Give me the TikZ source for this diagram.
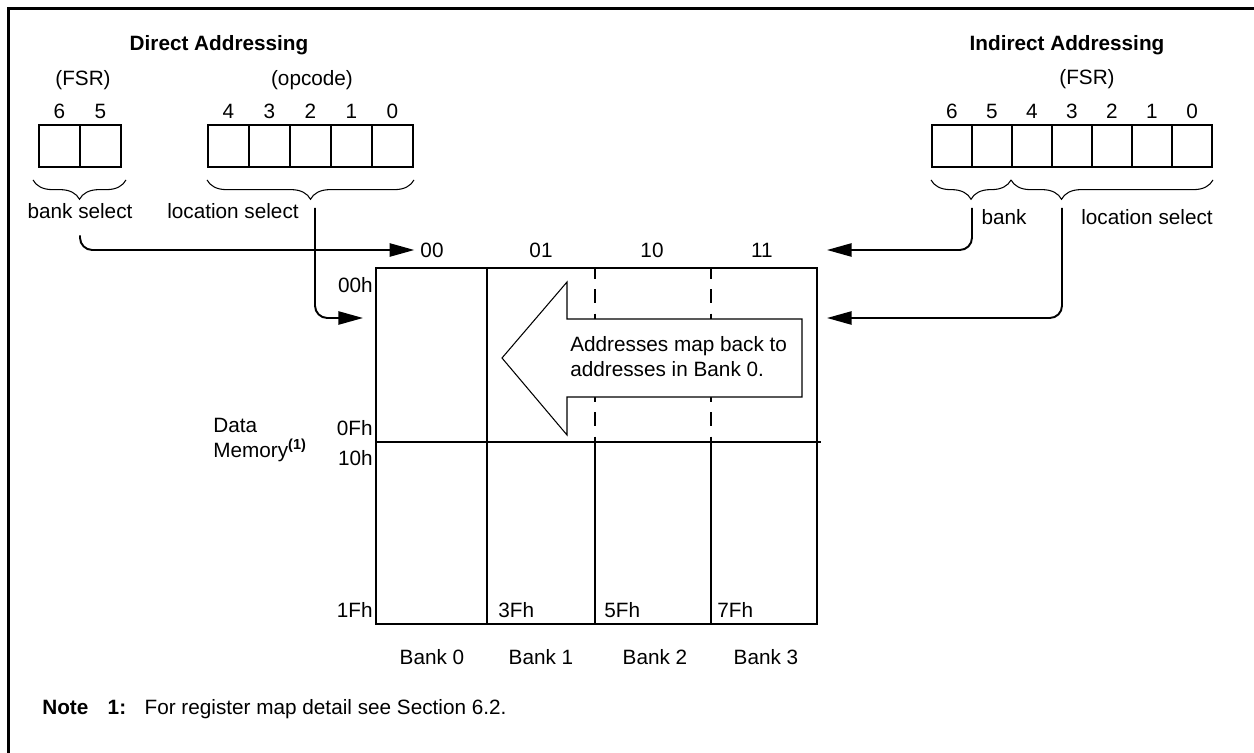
\documentclass[tikz,border=0pt]{standalone}
\usepackage{fontspec}
\setmainfont{Liberation Sans}
\usetikzlibrary{arrows.meta, positioning, calc, decorations.pathreplacing}

\begin{document}
\begin{tikzpicture}[x=0.02cm, y=-0.02cm,
    font=\fontsize{11.8}{14.2}\selectfont,
    bitcell/.style={draw, line width=1.1pt, minimum width=#1, minimum height=0.84cm, inner sep=0pt},
    bitcell/.default=0.82cm,
    bitnum/.style={inner sep=1pt},
    selbrace/.style={decorate, decoration={brace, mirror, amplitude=11pt, aspect=#1}, line width=0.6pt},
    selbrace/.default=0.5,
    link/.style={line width=1.1pt, rounded corners=7pt, -{Triangle[length=14pt, width=7.5pt]}},
    memline/.style={line width=1.1pt},
    addr/.style={inner sep=0pt}]

  \useasboundingbox (0,0) rectangle (1254,753);
  % frame
  \draw[line width=1.5pt] (8.5,753) -- (8.5,8.5) -- (1254,8.5);

  % direct addressing
  \node[font=\fontsize{11.8}{14.2}\selectfont\bfseries] (dtitle) at (219,45) {Direct Addressing};
  \node (dfsr) at (83,80) {(FSR)};
  \node (dop) at (312,80) {(opcode)};
  \foreach \b/\x in {6/59.5, 5/100.5} {
    \node[bitcell] (d\b) at (\x,146) {};
    \node[bitnum, above=2pt of d\b] {\b};
  }
  \foreach \b/\x in {4/228.5, 3/269.5, 2/310.5, 1/351.5, 0/392.5} {
    \node[bitcell] (o\b) at (\x,146) {};
    \node[bitnum, above=2pt of o\b] {\b};
  }
  \draw[selbrace] ($(d6.south west)+(-5,12)$) -- ($(d5.south east)+(4,12)$);
  \draw[selbrace] ($(o4.south west)+(0,12)$) -- ($(o0.south east)+(0,12)$);
  \node (bsel) at (80,211) {bank select};
  \node (dlsel) at (233,211) {location select};
  \coordinate (dloc) at (315,208);

  % indirect addressing
  \node[font=\fontsize{11.8}{14.2}\selectfont\bfseries] (ititle) at (1067,45) {Indirect Addressing};
  \node (ifsr) at (1087,79) {(FSR)};
  \foreach \b in {6,...,0} {
    \pgfmathsetmacro\xc{952+(6-\b)*40}
    \node[bitcell=0.8cm] (i\b) at (\xc,146) {};
    \node[bitnum, above=2pt of i\b] {\b};
  }
  \draw[selbrace] ($(i6.south west)+(0,12)$) -- ($(i4.south west)+(0,12)$);
  \draw[selbrace=0.25] ($(i4.south west)+(0,12)$) -- ($(i0.south east)+(0,12)$);
  \node (ibk) at (1004,217) {bank};
  \node (ilsel) at (1147,217) {location select};
  \coordinate (ibank) at (972,208);
  \coordinate (iloc) at (1062,208);

  % data memory
  \foreach \c/\x in {00/432, 01/541, 10/652, 11/762}
    \node (c\c) at (\x,250) {\c};
  \draw[memline] (376,268) rectangle (817,624);
  \draw[memline] (376,442) -- (821,442);
  \draw[memline] (487,268) -- (487,624);
  \foreach \x in {595, 711} {
    \draw[memline, dash pattern=on 8pt off 6pt, dash phase=2pt] (\x,268) -- (\x,442);
    \draw[memline] (\x,442) -- (\x,624);
  }
  \foreach \lab/\y in {00h/285, 0Fh/428, 10h/458, 1Fh/610}
    \node[addr, anchor=east] at (373,\y) {\lab};
  \foreach \lab/\x in {3Fh/498, 5Fh/604, 7Fh/717}
    \node[addr, anchor=west] at (\x,610) {\lab};
  \foreach \i/\x in {0/432, 1/541, 2/655, 3/766}
    \node (bank\i) at (\x,657) {Bank \i};
  \node[addr, anchor=west, align=left] (dmem) at (213,440) {Data\\Memory\textsuperscript{\bfseries(1)}};

  % map-back arrow
  \draw[fill=white, line width=0.6pt] (502,358) -- (567,282) -- (567,319) -- (802,319)
    -- (802,397) -- (567,397) -- (567,435) -- cycle;
  \node[addr, anchor=west, align=left] (mapnote) at (570,357) {Addresses map back to\\addresses in Bank 0.};

  % connectors
  \coordinate (din) at (363,318);
  \coordinate (iba) at (827,250);
  \coordinate (iin) at (827,318);
  \draw[link] ([yshift=-6pt]bsel.south) |- (c00.west);
  \draw[link] (dloc) |- (din);
  \draw[link] (ibank) |- (iba);
  \draw[link] (iloc) |- (iin);

  % footnote
  \node[addr, anchor=west] (fnote) at (42,709)
    {\textbf{Note}\hspace{11pt}\textbf{1:}\hspace{10.5pt}For register map detail see Section 6.2.};
\end{tikzpicture}
\end{document}
